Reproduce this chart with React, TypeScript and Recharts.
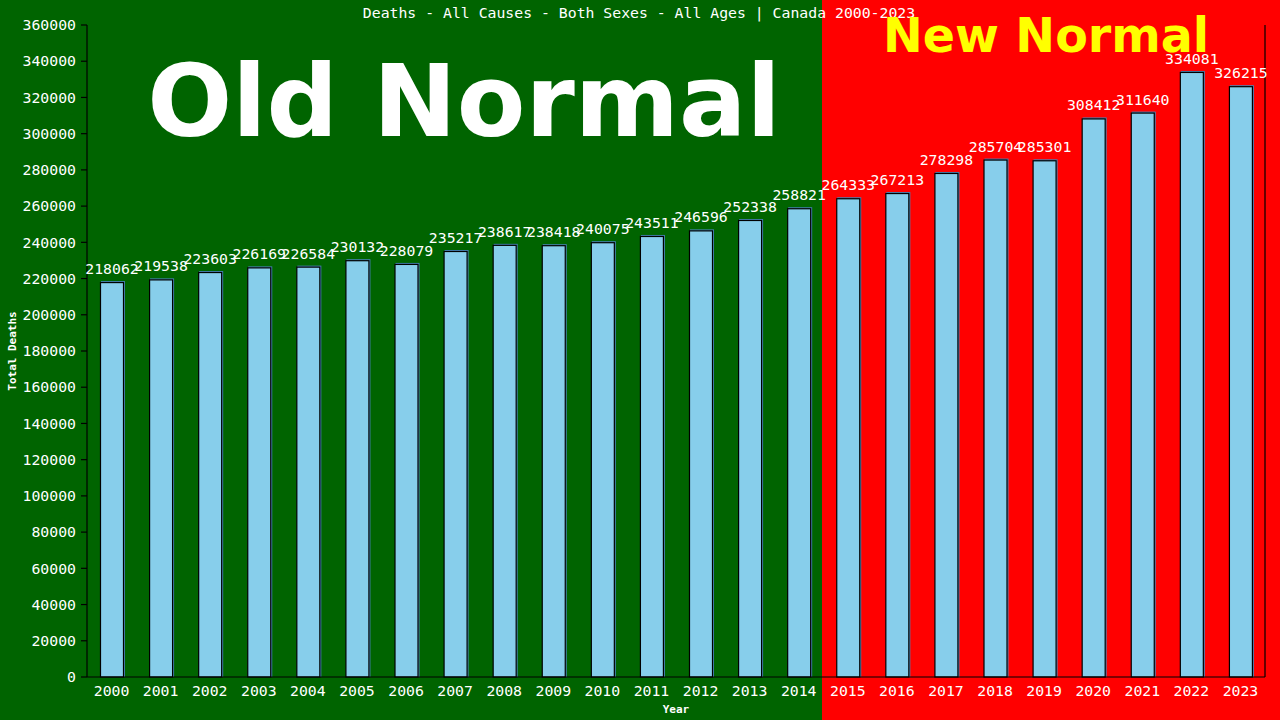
import React from 'react';
import { BarChart, Bar, XAxis, YAxis, LabelList } from 'recharts';

const years = ['2000','2001','2002','2003','2004','2005','2006','2007','2008','2009','2010','2011','2012','2013','2014','2015','2016','2017','2018','2019','2020','2021','2022','2023'];
const deaths = [218062,219538,223603,226169,226584,230132,228079,235217,238617,238418,240075,243511,246596,252338,258821,264333,267213,278298,285704,285301,308412,311640,334081,326215];
const yTicks = [0,20000,40000,60000,80000,100000,120000,140000,160000,180000,200000,220000,240000,260000,280000,300000,320000,340000,360000];

const TITLE = 'Deaths - All Causes - Both Sexes - All Ages | Canada 2000-2023';
const OLD_LABEL = 'Old Normal';
const NEW_LABEL = 'New Normal';

const data = years.map((y, i) => ({ year: y, deaths: deaths[i] }));

const MONO = '"DejaVu Sans Mono", monospace';
const SANS = '"DejaVu Sans", sans-serif';

const BarShape = (props: any) => {
  const { x, y, width, height } = props;
  if (height == null || width == null) return null;
  return (
    <g>
      <rect x={x + 1} y={y - 1} width={width} height={height + 1} fill="#4682B4" />
      <rect x={x + 0.5} y={y + 0.5} width={width - 1} height={height - 0.5} fill="#87CEEB" stroke="#000" strokeWidth={1.2} />
    </g>
  );
};

export default function App() {
  return (
    <div
      style={{
        position: 'absolute',
        left: 0,
        top: 0,
        width: 1280,
        height: 720,
        background: 'linear-gradient(to right, #006400 0px, #006400 822px, #ff0000 822px, #ff0000 1280px)',
        overflow: 'hidden',
      }}
    >
      <svg width={1280} height={720} style={{ position: 'absolute', left: 0, top: 0 }}>
        <text x={639} y={18} textAnchor="middle" fill="#fff" fontFamily={MONO} fontSize={14.8}>{TITLE}</text>
        <text x={464} y={136} textAnchor="middle" fill="#fff" fontFamily={SANS} fontWeight="bold" fontSize={100}>{OLD_LABEL}</text>
        <text x={1046} y={52} textAnchor="middle" fill="#ffff00" fontFamily={SANS} fontWeight="bold" fontSize={47.5}>{NEW_LABEL}</text>
      </svg>
      <div style={{ position: 'absolute', left: 0, top: 0 }}>
        <BarChart width={1280} height={720} data={data} margin={{ top: 25, right: 0, bottom: 0, left: 0 }}>
          <XAxis
            dataKey="year"
            height={43}
            tickLine={false}
            axisLine={{ stroke: '#000', strokeWidth: 1.2 }}
            tick={{ fill: '#fff', fontFamily: MONO, fontSize: 14.8 }}
            interval={0}
            label={{
              content: (p: any) => {
                const vb = p.viewBox;
                return (
                  <text x={vb.x + vb.width / 2} y={713} textAnchor="middle" fill="#fff" fontFamily={MONO} fontWeight="bold" fontSize={11}>Year</text>
                );
              },
            }}
          />
          <YAxis
            yAxisId="left"
            width={87}
            domain={[0, 360000]}
            ticks={yTicks}
            interval={0}
            tickSize={6}
            tickMargin={5}
            tickLine={{ stroke: '#000', strokeWidth: 1.2 }}
            axisLine={{ stroke: '#000', strokeWidth: 1.2 }}
            tick={{ fill: '#fff', fontFamily: MONO, fontSize: 14.8 }}
            label={{
              content: (p: any) => {
                const vb = p.viewBox;
                const cy = vb.y + vb.height / 2;
                return (
                  <text x={16} y={cy} transform={`rotate(-90, 16, ${cy})`} textAnchor="middle" fill="#fff" fontFamily={MONO} fontWeight="bold" fontSize={11}>Total Deaths</text>
                );
              },
            }}
          />
          <YAxis
            yAxisId="right"
            orientation="right"
            width={15}
            domain={[0, 360000]}
            tick={false}
            tickLine={false}
            axisLine={{ stroke: '#000', strokeWidth: 1.2 }}
          />
          <Bar yAxisId="left" dataKey="deaths" barSize={24} shape={<BarShape />} isAnimationActive={false}>
            <LabelList dataKey="deaths" position="top" offset={8} fill="#fff" fontFamily={MONO} fontSize={14.8} />
          </Bar>
        </BarChart>
      </div>
    </div>
  );
}
